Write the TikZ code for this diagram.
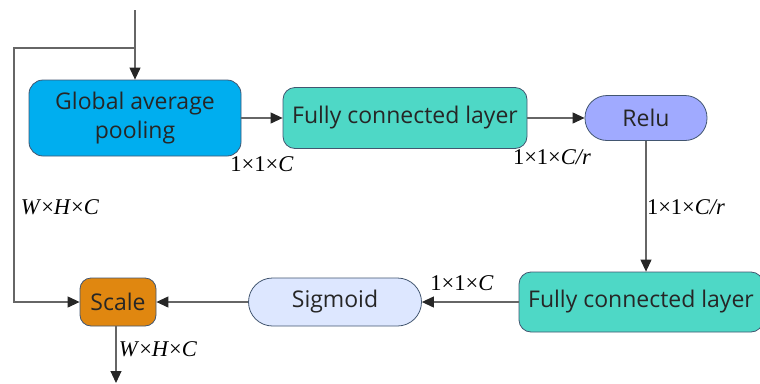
\documentclass[tikz,border=0pt]{standalone}
\usepackage{fontspec}
\setsansfont{Open Sans}
\newfontfamily\dimfont{Liberation Serif}
\usetikzlibrary{arrows.meta,positioning}

\definecolor{gapblue}{RGB}{0,174,239}
\definecolor{fcgreen}{RGB}{78,216,198}
\definecolor{reluviolet}{RGB}{160,170,255}
\definecolor{sigblue}{RGB}{221,231,255}
\definecolor{scaleorange}{RGB}{224,135,16}
\definecolor{edgeslate}{RGB}{66,86,112}

\begin{document}
\begin{tikzpicture}[
  font=\sffamily\fontsize{23}{29}\selectfont,
  blk/.style={draw=edgeslate,line width=0.8pt,inner sep=0pt,align=center,text=black!85},
  dim/.style={font=\dimfont\fontsize{22.5}{26}\selectfont,inner sep=0pt},
  line/.style={draw=black!60,line width=1.1pt},
  >={Triangle[length=12pt,width=11pt,color=black!85]}]
\useasboundingbox (0,0) rectangle (760pt,-383pt);
% top row
\node[blk,fill=gapblue,minimum width=212pt,minimum height=76pt,rounded corners=14pt]
  (gap) at (135pt,-118pt) {Global average\\pooling};
\node[blk,fill=fcgreen,minimum width=244pt,minimum height=61pt,rounded corners=12pt]
  (fc1) at (405pt,-118pt) {Fully connected layer};
\node[blk,fill=reluviolet,minimum width=122pt,minimum height=45pt,rounded corners=22pt]
  (relu) at (646pt,-118pt) {Relu};
% bottom row
\node[blk,fill=fcgreen,minimum width=244pt,minimum height=60pt,rounded corners=12pt]
  (fc2) at (641pt,-302pt) {Fully connected layer};
\node[blk,fill=sigblue,minimum width=173pt,minimum height=48pt,rounded corners=24pt]
  (sig) at (335pt,-302pt) {Sigmoid};
\node[blk,fill=scaleorange,minimum width=76pt,minimum height=48pt,rounded corners=11pt]
  (scale) at (118pt,-302pt) {Scale};
% input, skip path and output
\coordinate (in) at (135pt,-10pt);
\coordinate (split) at (135pt,-48pt);
\coordinate (bend) at (14pt,-48pt);
\coordinate (out) at (116pt,-383pt);
\draw[line,->] (in) -- (gap);
\draw[line,->] (split) -- (bend) |- (scale);
\draw[line,->] (scale.south -| out) -- (out);
% squeeze / excitation
\draw[line,->] (gap) -- (fc1);
\draw[line,->] (fc1) -- (relu);
\draw[line,->] (relu.south) -- (relu.south |- fc2.north);
\draw[line,->] (fc2) -- (sig);
\draw[line,->] (sig) -- (scale);
% feature sizes
\node[dim] (d1) at (262pt,-164pt) {1×1×\textit{C}};
\node[dim] (d2) at (552pt,-157pt) {1×1×\textit{C/r}};
\node[dim] (d3) at (686pt,-207pt) {1×1×\textit{C/r}};
\node[dim] (d4) at (462pt,-283pt) {1×1×\textit{C}};
\node[dim] (d5) at (60pt,-207pt) {\textit{W}×\textit{H}×\textit{C}};
\node[dim] (d6) at (158pt,-349pt) {\textit{W}×\textit{H}×\textit{C}};
\end{tikzpicture}
\end{document}
